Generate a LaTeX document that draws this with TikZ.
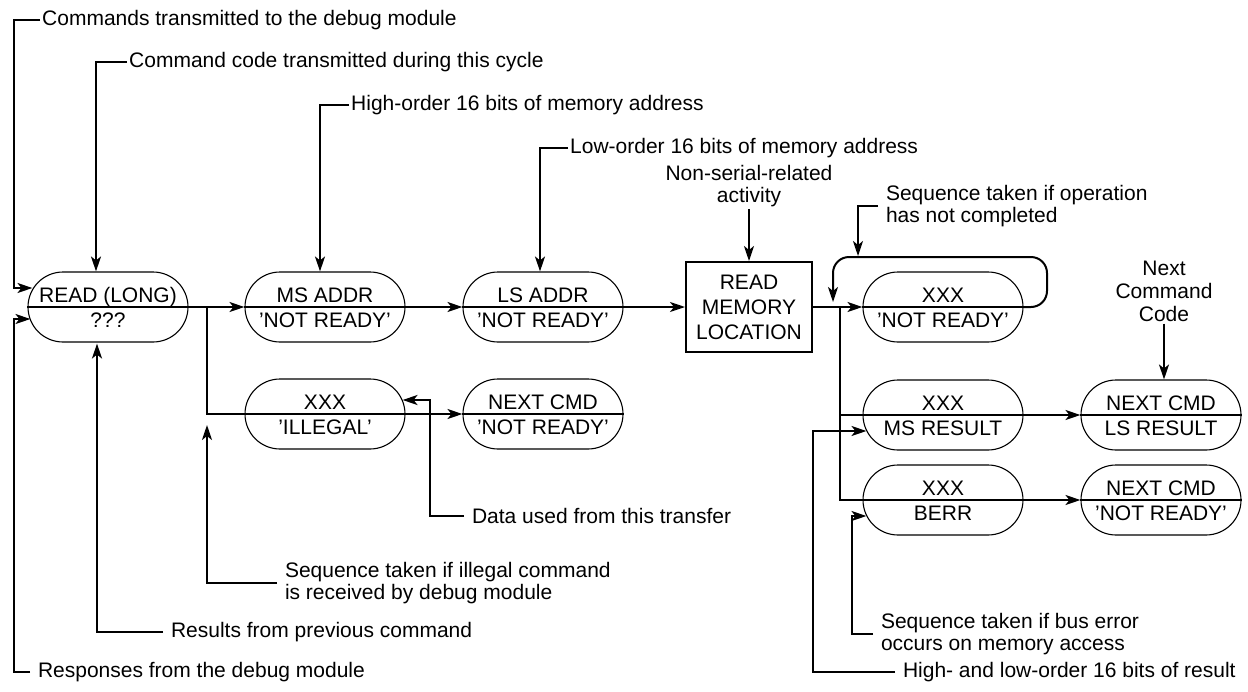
\documentclass[tikz,border=0pt]{standalone}
\usepackage{fontspec}
\setmainfont{Liberation Sans}
\usetikzlibrary{arrows.meta,calc,shapes.misc}
\newcommand\stadium[5]{%
  \node[stad] (#1) at (#2,#3) {};
  \node[lab,anchor=base] (#1t) at ($(#1.center)+(0,-5)$) {#4};
  \node[lab,anchor=base] (#1b) at ($(#1.center)+(0,20)$) {#5};
  \draw[conn] (#1.west) -- (#1.east);
}
\begin{document}
\begin{tikzpicture}[x=1pt,y=-1pt,
  font=\fontsize{21}{22}\selectfont,
  stad/.style={rounded rectangle, draw, line width=1.1pt, minimum width=160pt, minimum height=70pt, inner sep=0pt},
  lab/.style={inner sep=0pt},
  txt/.style={inner sep=2pt, align=left},
  txtg/.style={txt, outer xsep=6pt},
  ctxt/.style={inner sep=2pt, align=center},
  conn/.style={line width=2pt},
  arr/.style={conn, -{Stealth[length=15pt,width=10pt,inset=4pt]}},
  memo/.style={draw, line width=2pt, minimum width=126pt, minimum height=90pt, align=center, inner sep=0pt, font=\fontsize{21}{25}\selectfont}
]
\useasboundingbox (0,0) rectangle (1248,691);

% states
\stadium{read}{108}{307}{READ (LONG)}{???}
\stadium{ms}{325}{307}{MS ADDR}{'NOT READY'}
\stadium{ls}{543}{307}{LS ADDR}{'NOT READY'}
\stadium{ill}{325}{414}{XXX}{'ILLEGAL'}
\stadium{nca}{543}{414}{NEXT CMD}{'NOT READY'}
\node[memo] (box) at (749,307) {READ\\MEMORY\\LOCATION};
\stadium{nr}{943}{307}{XXX}{'NOT READY'}
\stadium{msr}{943}{415}{XXX}{MS RESULT}
\stadium{lsr}{1161}{415}{NEXT CMD}{LS RESULT}
\stadium{berr}{943}{500}{XXX}{BERR}
\stadium{ncb}{1161}{500}{NEXT CMD}{'NOT READY'}

% main flow
\coordinate (j1) at (207,307);
\coordinate (j2) at (840,307);
\draw[arr] (read.east) -- (ms.west);
\draw[arr] (j1) |- (nca.west);
\draw[arr] (ms.east) -- (ls.west);
\draw[arr] (ls.east) -- (box.west);
\draw[arr] (box.east) -- (nr.west);
\draw[arr] (j2) |- (lsr.west);
\draw[arr] (j2) |- (ncb.west);
\draw[arr, rounded corners=16pt] (nr.east) -- (1047,307) -- (1047,257) -- (833,257) -- (833,302);

% annotations
\node[txt,anchor=west] (t1) at (40,20) {Commands transmitted to the debug module};
\node[txt,anchor=west] (t2) at (127,62) {Command code transmitted during this cycle};
\node[txt,anchor=west] (t3) at (349,105) {High-order 16 bits of memory address};
\node[txt,anchor=west] (t4) at (568,148) {Low-order 16 bits of memory address};
\node[ctxt] (ns) at (749,186) {Non-serial-related\\activity};
\node[txtg,anchor=west] (sq) at (878,206) {Sequence taken if operation\\has not completed};
\node[ctxt,font=\fontsize{21}{23}\selectfont] (nx) at (1164,291) {Next\\Command\\Code};
\node[txtg,anchor=west] (td) at (464,516) {Data used from this transfer};
\node[txtg,anchor=west] (ti) at (277,583) {Sequence taken if illegal command\\is received by debug module};
\node[txtg,anchor=west] (tr) at (163,632) {Results from previous command};
\node[txtg,anchor=west] (tresp) at (30,672) {Responses from the debug module};
\node[txtg,anchor=west] (tbe) at (873,634) {Sequence taken if bus error\\occurs on memory access};
\node[txtg,anchor=west] (thl) at (895,672) {High- and low-order 16 bits of result};

\draw[arr] (t1.west) -| (14,288) -- ($(read.west)+(5,-19)$);
\draw[arr] (t2.west) -| ($(read.north)+(-12,0)$);
\draw[arr] (t3.west) -| ($(ms.north)+(-5,0)$);
\draw[arr] (t4.west) -| ($(ls.north)+(-3,0)$);
\draw[arr] (ns.south) -- (box.north);
\draw[arr] (sq.west) -| (858,256);
\draw[arr] (nx.south) -- (nx.south |- lsr.north);
\draw[arr] (td.west) -| (430,400) -- ($(ill.east)+(-3,-14)$);
\draw[arr] (ti.west) -| (207,425);
\draw[arr] (tr.west) -| ($(read.south)+(-11,1)$);
\draw[arr] (tresp.west) -| (14,319) -- ($(read.west)+(3,12)$);
\draw[arr] (tbe.west) -| (852,516) -- ($(berr.west)+(4,16)$);
\draw[arr] (thl.west) -| (813,431) -- ($(msr.west)+(4,16)$);
\end{tikzpicture}
\end{document}
